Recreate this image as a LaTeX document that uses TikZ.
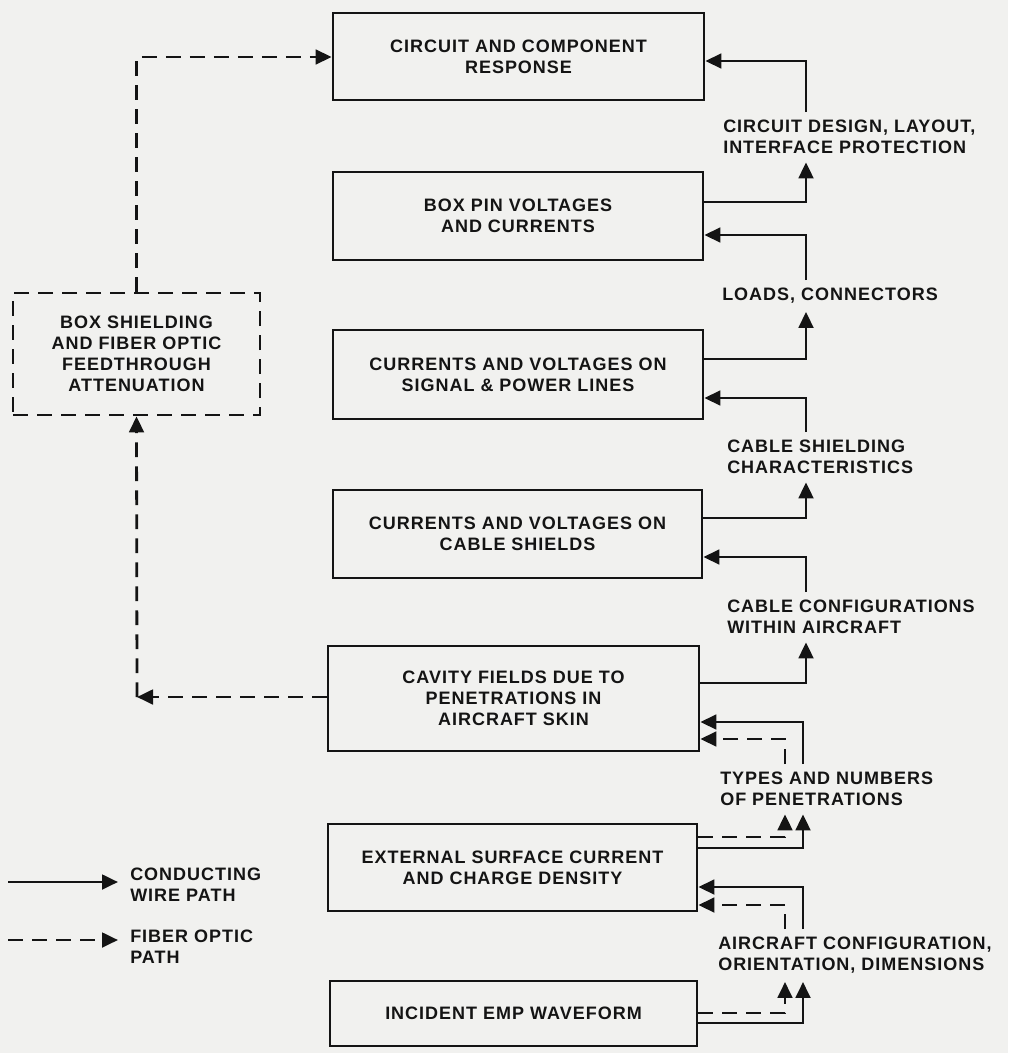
\documentclass[tikz,border=0pt]{standalone}
\usepackage{fontspec}
\setmainfont{Liberation Sans}[LetterSpace=5.5]
\usetikzlibrary{arrows.meta}
\definecolor{bgc}{RGB}{241,241,239}
\definecolor{ink}{RGB}{20,20,20}
\tikzset{
  arrowtip/.style={-{Triangle[length=12pt,width=11pt]}},
  wire/.style={draw=ink,line width=2.1pt,arrowtip},
  fiberline/.style={draw=ink,line width=2.1pt,dash pattern=on 11pt off 7pt},
  fiber/.style={fiberline,arrowtip},
  fnt/.style={font=\fontsize{13.5}{15.8}\selectfont\bfseries,text=ink},
  bx/.style 2 args={fnt,align=center,draw=ink,line width=2.1pt,inner sep=0pt,
     minimum width=#1*0.75pt,minimum height=#2*0.75pt},
  lbl/.style={fnt,align=left,anchor=north west,inner xsep=0pt,inner ysep=6pt},
  lgd/.style={fnt,align=left,anchor=north west,inner xsep=9pt,inner ysep=0pt}
}
\begin{document}
\begin{tikzpicture}[x=0.75pt,y=-0.75pt]
\fill[bgc] (0,0) rectangle (1008,1053);
% main column
\node[bx={371}{87}]  (B1) at (518.5,56.5) {CIRCUIT AND COMPONENT\\RESPONSE};
\node[bx={370}{88}]  (B2) at (518,216) {BOX PIN VOLTAGES\\AND CURRENTS};
\node[bx={370}{89}]  (B3) at (518,374.5) {CURRENTS AND VOLTAGES ON\\SIGNAL \& POWER LINES};
\node[bx={369}{88}]  (B4) at (517.5,534) {CURRENTS AND VOLTAGES ON\\CABLE SHIELDS};
\node[bx={371}{105}] (B5) at (513.5,698.5) {CAVITY FIELDS DUE TO\\PENETRATIONS IN\\AIRCRAFT SKIN};
\node[bx={369}{87}]  (B6) at (512.5,867.5) {EXTERNAL SURFACE CURRENT\\AND CHARGE DENSITY};
\node[bx={367}{65}]  (B7) at (513.5,1013.5) {INCIDENT EMP WAVEFORM};
% dashed box
\node[bx={247}{122},fiberline] (DB) at (136.5,354) {BOX SHIELDING\\AND FIBER OPTIC\\FEEDTHROUGH\\ATTENUATION};
% right labels
\node[lbl] (L1) at (723,112) {CIRCUIT DESIGN, LAYOUT,\\INTERFACE PROTECTION};
\node[lbl] (L2) at (722,280) {LOADS, CONNECTORS};
\node[lbl] (L3) at (727,432) {CABLE SHIELDING\\CHARACTERISTICS};
\node[lbl] (L4) at (727,592) {CABLE CONFIGURATIONS\\WITHIN AIRCRAFT};
\node[lbl] (L5) at (720,764) {TYPES AND NUMBERS\\OF PENETRATIONS};
\node[lbl] (L6) at (718,929) {AIRCRAFT CONFIGURATION,\\ORIENTATION, DIMENSIONS};
% right connectors
\draw[wire] (L1.north -| 806,0) |- (B1.east |- 0,61);
\draw[wire] (B2.east |- 0,202) -| (L1.south -| 806,0);
\draw[wire] (L2.north -| 806,0) |- (B2.east |- 0,235);
\draw[wire] (B3.east |- 0,359) -| (L2.south -| 806,0);
\draw[wire] (L3.north -| 806,0) |- (B3.east |- 0,398);
\draw[wire] (B4.east |- 0,518) -| (L3.south -| 806,0);
\draw[wire] (L4.north -| 806,0) |- (B4.east |- 0,557);
\draw[wire] (B5.east |- 0,683) -| (L4.south -| 806,0);
\draw[wire] (L5.north -| 803,0) |- (B5.east |- 0,722);
\draw[fiber] (L5.north -| 785,0) |- (B5.east |- 0,739);
\draw[fiber] (B6.east |- 0,837) -| (L5.south -| 785,0);
\draw[wire] (B6.east |- 0,848) -| (L5.south -| 803,0);
\draw[wire] (L6.north -| 803,0) |- (B6.east |- 0,887);
\draw[fiber] (L6.north -| 785,0) |- (B6.east |- 0,905);
\draw[fiber] (B7.east |- 0,1013) -| (L6.south -| 785,0);
\draw[wire] (B7.east |- 0,1023) -| (L6.south -| 803,0);
% left connectors
\draw[fiber] (DB.north) |- (B1.west |- 0,57);
\coordinate (corner) at (137,697);
\draw[fiber] (B5.west |- corner) -- (corner);
\draw[fiber] (corner) -- (DB.south);
% legend
\coordinate (lw) at (8,882);
\coordinate (lf) at (8,940);
\node[lgd] (G1) at (118,868) {CONDUCTING\\WIRE PATH};
\node[lgd] (G2) at (118,930) {FIBER OPTIC\\PATH};
\draw[wire] (lw) -- (lw -| G1.west);
\draw[fiber] (lf) -- (lf -| G2.west);
\end{tikzpicture}
\end{document}
